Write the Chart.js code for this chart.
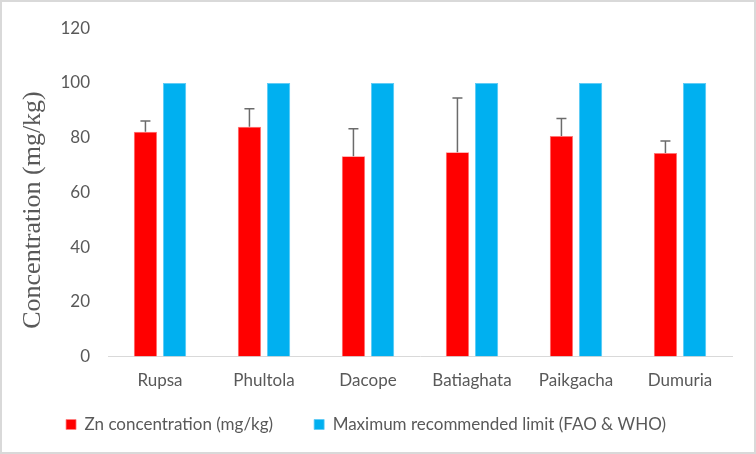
<!DOCTYPE html>
<html>
<head>
<meta charset="utf-8">
<script src="https://cdn.jsdelivr.net/npm/chart.js@4.4.0/dist/chart.umd.min.js"></script>
<style>
  html, body { margin: 0; padding: 0; background: #fff; }
  #wrap { position: relative; width: 756px; height: 454px; }
  #frame { position: absolute; left: 0; top: 0; width: 756px; height: 454px; box-sizing: border-box; border: 2px solid #d9d9d9; }
  #myChart { position: absolute; left: 0; top: 0; }
</style>
</head>
<body>
<div id="wrap">
  <div id="frame"></div>
  <canvas id="myChart" width="756" height="454"></canvas>
</div>
<script>
const categories = ['Rupsa', 'Phultola', 'Dacope', 'Batiaghata', 'Paikgacha', 'Dumuria'];
const znValues = [82.2, 84.0, 73.2, 74.7, 80.6, 74.4];
const znErrors = [3.9, 6.6, 10.1, 19.8, 6.4, 4.4];
const limitValues = [100, 100, 100, 100, 100, 100];
const yTicks = [0, 20, 40, 60, 80, 100, 120];

const tickColor = '#595959';
const sansFont = 'Lato, "Noto Sans", sans-serif';

// upper error bars on the Zn series
const errorBars = {
    id: 'errorBars',
    afterDatasetsDraw(chart) {
        const meta = chart.getDatasetMeta(0);
        const y = chart.scales.y;
        const ctx = chart.ctx;
        ctx.save();
        ctx.strokeStyle = '#6b6b6b';
        ctx.lineWidth = 1.5;
        meta.data.forEach((bar, i) => {
            const top = y.getPixelForValue(znValues[i] + znErrors[i]);
            ctx.beginPath();
            ctx.moveTo(bar.x, bar.y);
            ctx.lineTo(bar.x, top);
            ctx.moveTo(bar.x - 5, top);
            ctx.lineTo(bar.x + 5, top);
            ctx.stroke();
        });
        ctx.restore();
    }
};

// y title sits a bit below the middle of the axis, as in the original
const yTitle = {
    id: 'yTitle',
    afterDraw(chart) {
        const ctx = chart.ctx;
        ctx.save();
        ctx.translate(33, 210);
        ctx.rotate(-Math.PI / 2);
        ctx.font = '26px "Liberation Serif", "Times New Roman", serif';
        ctx.fillStyle = tickColor;
        ctx.textAlign = 'center';
        ctx.textBaseline = 'middle';
        ctx.fillText('Concentration (mg/kg)', 0, 0);
        ctx.restore();
    }
};

// legend needs wide gaps between items but sits close under the labels
const legendShift = {
    id: 'legendShift',
    afterLayout(chart) {
        chart.legend.top -= 30;
        chart.legend.bottom -= 30;
    }
};

const ctx = document.getElementById('myChart').getContext('2d');
new Chart(ctx, {
    type: 'bar',
    data: {
        labels: categories,
        datasets: [{
            label: 'Zn concentration (mg/kg)',
            data: znValues,
            backgroundColor: '#ff0000',
            borderColor: '#ff8080',
            borderWidth: 0.75,
            categoryPercentage: 0.56,
            barPercentage: 0.8
        }, {
            label: 'Maximum recommended limit (FAO & WHO)',
            data: limitValues,
            backgroundColor: '#00b0f0',
            borderColor: '#5cc9f5',
            borderWidth: 0.75,
            categoryPercentage: 0.56,
            barPercentage: 0.8
        }]
    },
    options: {
        responsive: false,
        animation: false,
        layout: { padding: { top: 18, right: 24, left: 0, bottom: -19 } },
        scales: {
            x: {
                grid: { display: false, drawTicks: false },
                border: { display: true, color: '#d9d9d9', width: 1 },
                ticks: { color: tickColor, font: { family: sansFont, size: 17 }, padding: 14 }
            },
            y: {
                min: 0,
                max: 120,
                afterBuildTicks(scale) { scale.ticks = yTicks.map(v => ({ value: v })); },
                grid: { display: false, drawTicks: false },
                border: { display: false },
                ticks: { color: tickColor, font: { family: sansFont, size: 17 }, padding: 18 },
                afterFit(scale) { scale.width = 108; }
            }
        },
        plugins: {
            legend: {
                position: 'bottom',
                labels: {
                    color: tickColor,
                    font: { family: sansFont, size: 17 },
                    boxWidth: 10,
                    boxHeight: 10,
                    padding: 41
                }
            },
            tooltip: { enabled: false }
        }
    },
    plugins: [errorBars, yTitle, legendShift]
});
</script>
</body>
</html>
